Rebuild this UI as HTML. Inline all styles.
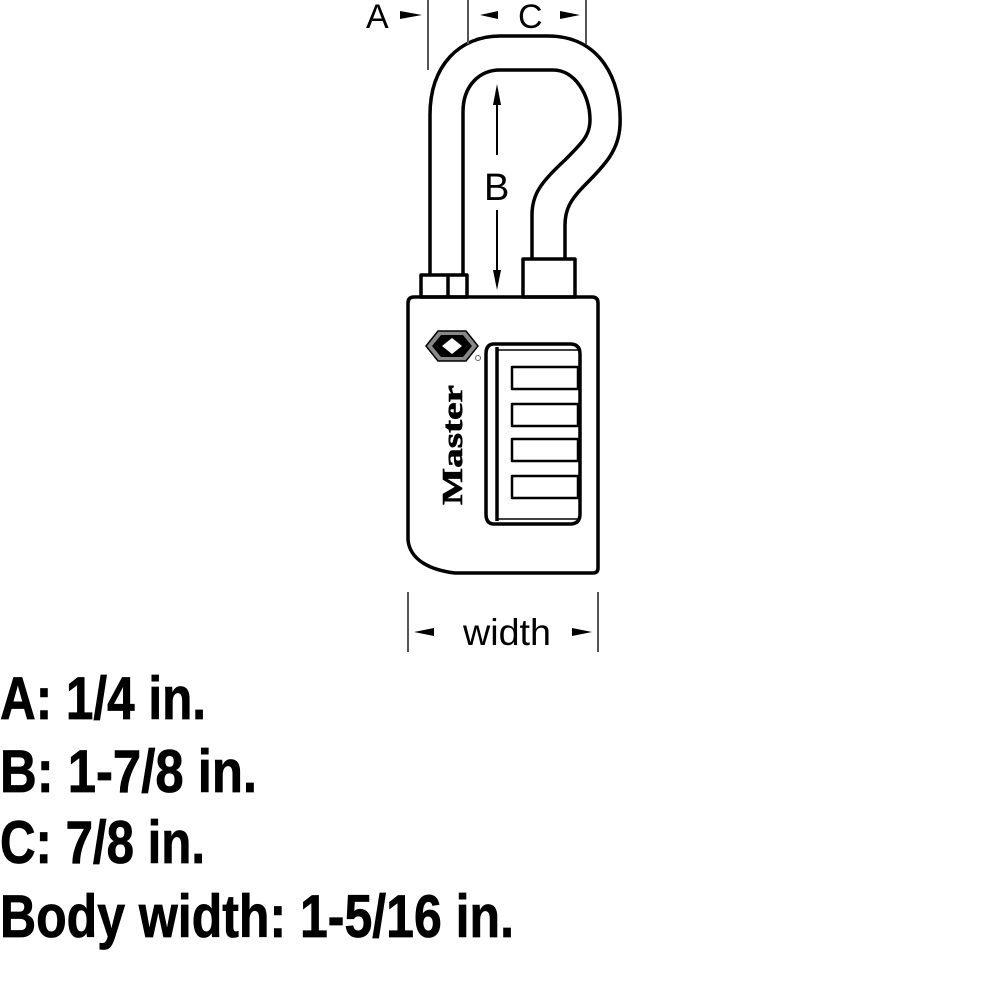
<!DOCTYPE html>
<html><head><meta charset="utf-8"><style>
html,body{margin:0;padding:0;background:#fff;}
svg{display:block;}
</style></head><body>
<svg width="990" height="990" viewBox="0 0 990 990" xmlns="http://www.w3.org/2000/svg">
<g fill="none" stroke="#000" stroke-width="3.5" stroke-linejoin="round">
<path d="M430,276 L430,115 C430,65 460,36 500,36 L548,36 C600,36 622,80 620,125 C619,150 605,165 585,185 C570,200 565,210 565,225 L565,259"/>
<path d="M463,276 L463,112 C463,85 480,70 500,70 L553,70 C575,70 590,95 590,120 C590,135 583,142 565,160 C540,183 532,195 532,215 L532,259"/>
<rect x="421" y="275" width="46" height="22"/>
<line x1="448" y1="275" x2="448" y2="297"/>
<rect x="523" y="259" width="52" height="38"/>
<path d="M414,297 L592,297 Q598,297 598,303 L598,568 Q598,573 593,573 L455,573 C430,570 410,560 408,540 L408,303 Q408,297 414,297 Z"/>
<path d="M494,344 L570,344 Q580,344 580,354 L580,514 Q580,524 570,524 L494,524 Q486,524 486,514 L486,354 Q486,344 494,344 Z"/>
<line x1="497" y1="347" x2="497" y2="521"/>
<path d="M497,350 L578,350 M497,519 L578,519" stroke-width="1.5"/>
<rect x="512" y="367" width="66" height="22" stroke-width="2.5"/>
<rect x="512" y="404" width="66" height="22" stroke-width="2.5"/>
<rect x="512" y="439" width="66" height="22" stroke-width="2.5"/>
<rect x="512" y="476" width="66" height="22" stroke-width="2.5"/>
</g>
<polygon points="426,346 438,331 466,331 478,346 466,361 438,361" fill="#888" stroke="#000" stroke-width="1.5"/>
<polygon points="432,346 441,335 463,335 472,346 463,357 441,357" fill="#000"/>
<polygon points="452,338 462,346 452,354 442,346" fill="#fff"/>
<text x="0" y="0" transform="translate(462,445) rotate(-90)" font-family="Liberation Serif,serif" font-weight="bold" font-size="28" text-anchor="middle" textLength="120" lengthAdjust="spacingAndGlyphs" stroke="#000" stroke-width="0.6">Master</text>
<circle cx="478" cy="358" r="2.5" fill="none" stroke="#666" stroke-width="1"/>
<g stroke="#555" stroke-width="2">
<line x1="428" y1="0" x2="428" y2="70"/>
<line x1="468" y1="0" x2="468" y2="44"/>
<line x1="586" y1="0" x2="586" y2="44"/>
<line x1="408" y1="592" x2="408" y2="652"/>
<line x1="598" y1="592" x2="598" y2="652"/>
<line x1="497" y1="95" x2="497" y2="155" stroke="#000"/>
<line x1="497" y1="210" x2="497" y2="280" stroke="#000"/>
</g>
<g fill="#000">
<polygon points="400,11 400,19 422,15"/>
<polygon points="498,11 498,19 480,15"/>
<polygon points="560,11 560,19 580,15"/>
<polygon points="493,105 501,105 497,84"/>
<polygon points="493,270 501,270 497,290"/>
<polygon points="414,632 434,628 434,636"/>
<polygon points="592,632 572,628 572,636"/>
</g>
<g font-family="Liberation Sans,sans-serif" fill="#000">
<text x="366" y="28" font-size="34">A</text>
<text x="518" y="28" font-size="34">C</text>
<text x="484" y="200" font-size="38">B</text>
<text x="463" y="645" font-size="37" textLength="88" lengthAdjust="spacingAndGlyphs">width</text>
</g>
<g font-family="Liberation Sans,sans-serif" font-weight="bold" font-size="60" fill="#000" stroke="#000" stroke-width="0.8">
<text x="0" y="719" textLength="206" lengthAdjust="spacingAndGlyphs">A: 1/4 in.</text>
<text x="0" y="792" textLength="257" lengthAdjust="spacingAndGlyphs">B: 1-7/8 in.</text>
<text x="0" y="863" textLength="205" lengthAdjust="spacingAndGlyphs">C: 7/8 in.</text>
<text x="0" y="937" textLength="514" lengthAdjust="spacingAndGlyphs">Body width: 1-5/16 in.</text>
</g>
</svg>
</body></html>
